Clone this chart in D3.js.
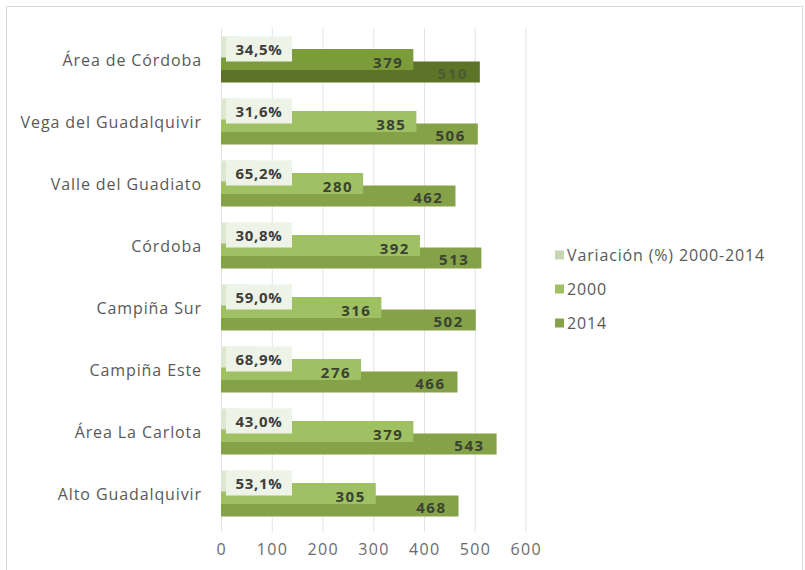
<!DOCTYPE html>
<html>
<head>
<meta charset="utf-8">
<script src="https://cdn.jsdelivr.net/npm/d3@7"></script>
<style>
  html, body { margin: 0; padding: 0; background: #ffffff; }
  svg { display: block; }
  text { font-family: "Open Sans", "Noto Sans", sans-serif; }
</style>
</head>
<body>
<svg id="chart" width="805" height="570"></svg>
<script>
// Comarcas (top to bottom) and their values
const categories = [
  "Área de Córdoba",
  "Vega del Guadalquivir",
  "Valle del Guadiato",
  "Córdoba",
  "Campiña Sur",
  "Campiña Este",
  "Área La Carlota",
  "Alto Guadalquivir"
];
const variacion = [34.5, 31.6, 65.2, 30.8, 59.0, 68.9, 43.0, 53.1];
const valores2000 = [379, 385, 280, 392, 316, 276, 379, 305];
const valores2014 = [510, 506, 462, 513, 502, 466, 543, 468];
const seriesNames = ["Variación (%) 2000-2014", "2000", "2014"];
const tickValues = [0, 100, 200, 300, 400, 500, 600];

const svg = d3.select("#chart");

// Outer chart frame
svg.append("rect")
  .attr("x", 6.5).attr("y", 6.5)
  .attr("width", 796).attr("height", 580)
  .attr("fill", "none")
  .attr("stroke", "#d9d9d9");

const x = d3.scaleLinear().domain([0, 600]).range([221, 525.5]);
const y = d3.scaleBand().domain(categories).range([28, 524]).paddingInner(0);

// Overlapping bars inside each category band
const barH = 21, barStep = 12.5, barTop = 8.5;

const colors = {
  var:  "#dde6cf",
  c2000: "#9fc063", c2000hi: "#7c9c3c",
  c2014: "#85a249", c2014hi: "#5b7428"
};

// Vertical gridlines
svg.append("g")
  .selectAll("line")
  .data(tickValues)
  .join("line")
  .attr("x1", d => x(d) + 0.5).attr("x2", d => x(d) + 0.5)
  .attr("y1", 28).attr("y2", 532)
  .attr("stroke", "#e3e3e3");

// Tick labels
svg.append("g")
  .selectAll("text")
  .data(tickValues)
  .join("text")
  .attr("x", d => x(d) + 0.8)
  .attr("y", 549)
  .attr("text-anchor", "middle")
  .attr("dominant-baseline", "central")
  .attr("font-size", 16)
  .attr("letter-spacing", 1.4)
  .attr("fill", "#6b6b6b")
  .text(d => d);

const rows = categories.map((c, i) => ({
  cat: c, i,
  v: variacion[i], a: valores2000[i], b: valores2014[i]
}));

const g = svg.append("g");

// 2014 bars (back)
g.selectAll("rect.b2014").data(rows).join("rect")
  .attr("class", "b2014")
  .attr("x", x(0))
  .attr("y", d => y(d.cat) + barTop + 2 * barStep)
  .attr("width", d => x(d.b) - x(0))
  .attr("height", barH)
  .attr("fill", d => d.i === 0 ? colors.c2014hi : colors.c2014);

// 2000 bars
g.selectAll("rect.b2000").data(rows).join("rect")
  .attr("class", "b2000")
  .attr("x", x(0))
  .attr("y", d => y(d.cat) + barTop + barStep)
  .attr("width", d => x(d.a) - x(0))
  .attr("height", barH)
  .attr("fill", d => d.i === 0 ? colors.c2000hi : colors.c2000);

// Variation bars (front)
g.selectAll("rect.bvar").data(rows).join("rect")
  .attr("class", "bvar")
  .attr("x", x(0))
  .attr("y", d => y(d.cat) + barTop)
  .attr("width", d => x(d.v) - x(0))
  .attr("height", barH)
  .attr("fill", colors.var);

// Variation label boxes
const fmtPct = v => v.toFixed(1).replace(".", ",") + "%";
g.selectAll("rect.lbox").data(rows).join("rect")
  .attr("class", "lbox")
  .attr("x", x(0) + 5)
  .attr("y", d => y(d.cat) + barTop)
  .attr("width", 66)
  .attr("height", 25)
  .attr("fill", "#eef3e7");

g.selectAll("text.lvar").data(rows).join("text")
  .attr("class", "lvar")
  .attr("x", x(0) + 38)
  .attr("y", d => y(d.cat) + barTop + 12)
  .attr("text-anchor", "middle")
  .attr("dominant-baseline", "central")
  .attr("font-size", 15)
  .attr("font-weight", "bold")
  .attr("letter-spacing", 0.7)
  .attr("fill", "#3d3d3d")
  .text(d => fmtPct(d.v));

// Value labels at bar ends
g.selectAll("text.l2000").data(rows).join("text")
  .attr("class", "l2000")
  .attr("x", d => x(d.a) - 10)
  .attr("y", d => y(d.cat) + barTop + barStep + barH / 2 + 2)
  .attr("text-anchor", "end")
  .attr("dominant-baseline", "central")
  .attr("font-size", 15)
  .attr("font-weight", "bold")
  .attr("letter-spacing", 1.5)
  .attr("fill", "#3a4230")
  .text(d => d.a);

g.selectAll("text.l2014").data(rows).join("text")
  .attr("class", "l2014")
  .attr("x", d => x(d.b) - 12)
  .attr("y", d => y(d.cat) + barTop + 2 * barStep + barH / 2 + 1)
  .attr("text-anchor", "end")
  .attr("dominant-baseline", "central")
  .attr("font-size", 15)
  .attr("font-weight", "bold")
  .attr("letter-spacing", 1.5)
  .attr("fill", d => d.i === 0 ? "#4a5b30" : "#3a4230")
  .text(d => d.b);

// Category labels
svg.append("g")
  .selectAll("text")
  .data(categories)
  .join("text")
  .attr("x", 202)
  .attr("y", d => y(d) + y.bandwidth() / 2 + 1)
  .attr("text-anchor", "end")
  .attr("dominant-baseline", "central")
  .attr("font-size", 16)
  .attr("letter-spacing", 0.9)
  .attr("fill", "#595959")
  .text(d => d);

// Legend
const legendSwatch = ["#c8d6b4", "#9fc063", "#85a249"];
const lg = svg.append("g");
seriesNames.forEach((name, i) => {
  const cy = 255 + i * 34;
  lg.append("rect")
    .attr("x", 555).attr("y", cy - 4.5)
    .attr("width", 9).attr("height", 9)
    .attr("fill", legendSwatch[i]);
  lg.append("text")
    .attr("x", 567).attr("y", cy)
    .attr("dominant-baseline", "central")
    .attr("font-size", 16)
    .attr("letter-spacing", 0.85)
    .attr("fill", "#595959")
    .text(name);
});
</script>
</body>
</html>
